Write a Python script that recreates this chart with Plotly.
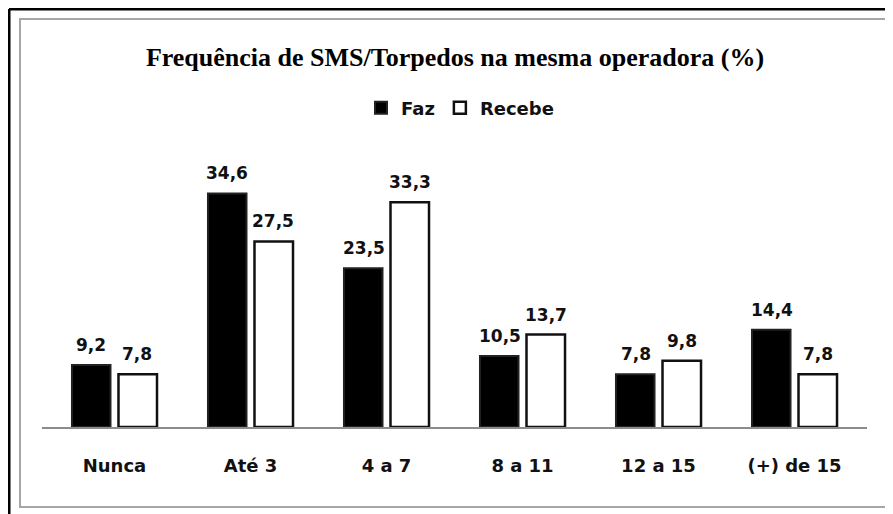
import plotly.graph_objects as go

categories = ["Nunca", "Até 3", "4 a 7", "8 a 11", "12 a 15", "(+) de 15"]
faz = [9.2, 34.6, 23.5, 10.5, 7.8, 14.4]
recebe = [7.8, 27.5, 33.3, 13.7, 9.8, 7.8]

# the page body has an 8px margin, so the figure fills the rest of the window
W, H = 885, 506


def px(x):
    return (x - 8) / W


def py(y):
    return 1 - (y - 8) / H


label_font = dict(family="DejaVu Sans", size=18, color="#111111", weight="bold")

fig = go.Figure()
fig.add_trace(go.Bar(
    x=categories, y=faz, name="Faz",
    marker=dict(color="#000000", line=dict(color="#222222", width=2)),
))
fig.add_trace(go.Bar(
    x=categories, y=recebe, name="Recebe",
    marker=dict(color="#ffffff", line=dict(color="#111111", width=2.5)),
))

# value labels above each bar, shifted to the bar of its series
for series, shift in ((faz, -23), (recebe, 23)):
    for cat, val in zip(categories, series):
        fig.add_annotation(
            x=cat, y=val, text=f"{val:.1f}".replace(".", ","),
            xref="x", yref="y", xshift=shift, yshift=8,
            yanchor="bottom", showarrow=False,
            font=dict(family="DejaVu Sans", size=17, color="#111111", weight="bold"),
        )

# frame: black outer border (left/top) and grey inner box
fig.add_shape(type="line", xref="paper", yref="paper",
              x0=px(9), x1=1, y0=py(9), y1=py(9),
              line=dict(color="#000000", width=3))
fig.add_shape(type="line", xref="paper", yref="paper",
              x0=px(9), x1=px(9), y0=0, y1=py(9),
              line=dict(color="#000000", width=3))
fig.add_shape(type="rect", xref="paper", yref="paper",
              x0=px(20), x1=px(888), y0=py(507), y1=py(19),
              line=dict(color="#a6a6a6", width=2))

fig.update_layout(
    width=W, height=H,
    margin=dict(l=0, r=0, t=0, b=0),
    paper_bgcolor="white", plot_bgcolor="white",
    barmode="group", bargap=0.316, bargroupgap=0.172,
    separators=",.",
    title=dict(
        text="Frequência de SMS/Torpedos na mesma operadora (%)",
        x=px(455), xanchor="center", y=py(57), yanchor="middle",
        font=dict(family="Liberation Serif", size=26, color="#000000", weight="bold"),
    ),
    legend=dict(
        orientation="h", x=px(460), xanchor="center", y=py(108), yanchor="middle",
        font=label_font, itemwidth=30, traceorder="normal",
    ),
    xaxis=dict(
        domain=[px(42), px(867)], range=[-0.533, 5.533],
        showline=True, linecolor="#8c8c8c", linewidth=1.5,
        showgrid=False, ticks="", tickfont=label_font, ticklabelstandoff=22,
    ),
    yaxis=dict(
        domain=[py(427), py(157)], range=[0, 40],
        showgrid=False, zeroline=False, showticklabels=False, showline=False,
    ),
)

fig.write_html("out.html")
